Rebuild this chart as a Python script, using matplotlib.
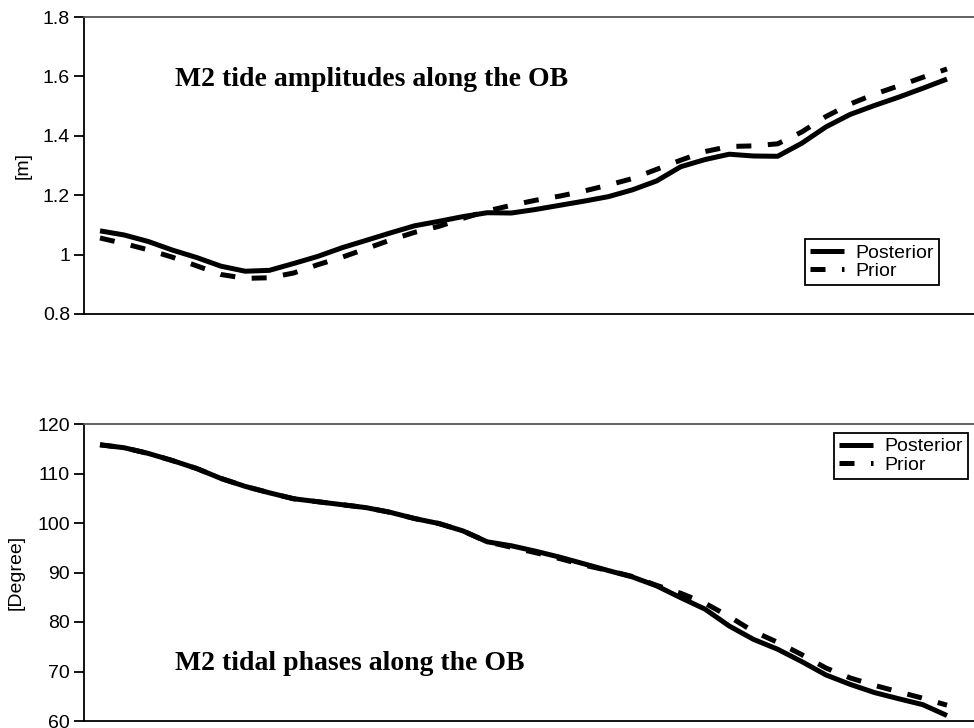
import matplotlib
matplotlib.use("Agg")
import matplotlib.pyplot as plt
from matplotlib.ticker import FuncFormatter

# Station index along the open boundary
stations = list(range(1, 37))

amp_posterior = [1.080, 1.066, 1.044, 1.015, 0.990, 0.961, 0.944, 0.947, 0.970, 0.994,
                 1.023, 1.048, 1.073, 1.097, 1.112, 1.128, 1.141, 1.140, 1.152, 1.166,
                 1.180, 1.195, 1.218, 1.248, 1.296, 1.320, 1.338, 1.332, 1.331, 1.375,
                 1.430, 1.472, 1.502, 1.530, 1.560, 1.591]
amp_prior = [1.056, 1.037, 1.016, 0.991, 0.962, 0.933, 0.920, 0.922, 0.938, 0.966,
             0.991, 1.020, 1.049, 1.075, 1.095, 1.122, 1.147, 1.166, 1.183, 1.197,
             1.214, 1.234, 1.256, 1.287, 1.318, 1.347, 1.364, 1.366, 1.373, 1.413,
             1.465, 1.507, 1.540, 1.568, 1.597, 1.625]

pha_posterior = [115.8, 115.2, 114.05, 112.6, 111.0, 109.0, 107.4, 106.1, 104.9, 104.3,
                 103.7, 103.1, 102.15, 100.9, 99.9, 98.4, 96.2, 95.4, 94.3, 93.1,
                 91.75, 90.4, 89.1, 87.3, 84.9, 82.6, 79.2, 76.5, 74.5, 72.0,
                 69.3, 67.4, 65.75, 64.5, 63.3, 61.1]
pha_prior = [115.8, 115.2, 114.05, 112.6, 111.0, 109.0, 107.4, 106.1, 104.9, 104.3,
             103.7, 103.1, 102.15, 100.9, 99.9, 98.4, 96.2, 95.1, 94.0, 92.8,
             91.5, 90.4, 89.2, 87.4, 85.8, 83.8, 81.1, 78.1, 75.9, 73.4,
             70.7, 68.7, 67.2, 65.9, 64.6, 63.2]

amp_ticks = [0.8, 1.0, 1.2, 1.4, 1.6, 1.8]
pha_ticks = [60, 70, 80, 90, 100, 110, 120]

fig = plt.figure(figsize=(9.74, 7.28), dpi=100)
ax1 = fig.add_axes([84/974, 1-314/728, 1-84/974, 297/728])
ax2 = fig.add_axes([84/974, 1-721/728, 1-84/974, 297/728])

xl = (1 - 16*35/847, 36 + 27*35/847)
lw = 3.6
sans = ['Liberation Sans', 'DejaVu Sans']
serif = ['Liberation Serif', 'DejaVu Serif']

def style(ax, ticks, ylim, ylabel, lx):
    ax.set_xlim(*xl)
    ax.set_ylim(*ylim)
    ax.set_yticks(ticks)
    ax.yaxis.set_major_formatter(FuncFormatter(lambda v, p: '%g' % v))
    ax.set_xticks([])
    ax.spines['right'].set_visible(False)
    for s in ['left', 'bottom', 'top']:
        ax.spines[s].set_linewidth(1.3)
        ax.spines[s].set_color('black')
    ax.spines['top'].set_color('#555555')
    ax.tick_params(axis='y', direction='out', length=7, width=1.3, pad=3,
                   labelsize=14)
    for t in ax.get_yticklabels():
        t.set_fontfamily(sans)
    ax.set_ylabel(ylabel, fontsize=14, family=sans)
    ax.yaxis.set_label_coords(lx, 0.5)

legkw = dict(borderaxespad=0, fancybox=False, edgecolor='black', framealpha=1,
             prop={'family': sans, 'size': 14}, handlelength=1.75,
             borderpad=0.25, labelspacing=0.05, handletextpad=0.6)

# Top panel
ax1.plot(stations, amp_posterior, color='black', lw=lw, solid_capstyle='butt', label='Posterior')
ax1.plot(stations, amp_prior, color='black', lw=lw, dashes=(3, 3.3), dash_capstyle='butt', label='Prior')
style(ax1, amp_ticks, (0.8, 1.8), '[m]', -0.0584)
ax1.text(0.102, 0.788, 'M2 tide amplitudes along the OB', transform=ax1.transAxes,
         fontsize=20, fontweight='bold', family=serif, va='center', ha='left')
leg1 = ax1.legend(loc='lower right', bbox_to_anchor=(0.9607, 0.0976), **legkw)
leg1.get_frame().set_linewidth(1.3)

# Bottom panel
ax2.plot(stations, pha_posterior, color='black', lw=lw, solid_capstyle='butt', label='Posterior')
ax2.plot(stations, pha_prior, color='black', lw=lw, dashes=(3, 3.3), dash_capstyle='butt', label='Prior')
style(ax2, pha_ticks, (60, 120), '[Degree]', -0.0663)
ax2.text(0.102, 0.192, 'M2 tidal phases along the OB', transform=ax2.transAxes,
         fontsize=20, fontweight='bold', family=serif, va='center', ha='left')
leg2 = ax2.legend(loc='upper right', bbox_to_anchor=(0.993, 0.97), **legkw)
leg2.get_frame().set_linewidth(1.3)

fig.savefig('out.png', dpi=100)
